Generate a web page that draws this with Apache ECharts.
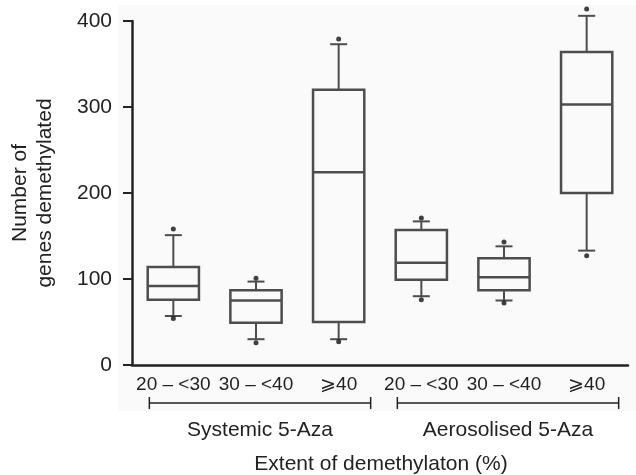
<!DOCTYPE html>
<html>
<head>
<meta charset="utf-8">
<script src="https://cdn.jsdelivr.net/npm/echarts@6/dist/echarts.min.js"></script>
<style>
  html, body { margin: 0; padding: 0; background: #fff; }
  #main { width: 636px; height: 475px; }
</style>
</head>
<body>
<div id="main"></div>
<script>
(function(){
	// categories on the x axis
	var categories = ['20 – <30', '30 – <40', '⩾40', '20 – <30', '30 – <40', '⩾40'];
	// [whisker low, Q1, median, Q3, whisker high]
	var boxStats = [
		[57, 76, 92, 114, 151],
		[30, 49, 75, 87, 97],
		[30, 50, 224, 320, 373],
		[80, 99, 119, 157, 167],
		[75, 87, 102, 124, 138],
		[133, 200, 303, 364, 406]
	];
	// outlier points [category index, value]
	var outliers = [
		[0, 158], [0, 54],
		[1, 101], [1, 26],
		[2, 379], [2, 27],
		[3, 171], [3, 76],
		[4, 143], [4, 72],
		[5, 414], [5, 127]
	];
	var groups = [
		{name: 'Systemic 5-Aza', from: 0, to: 2},
		{name: 'Aerosolised 5-Aza', from: 3, to: 5}
	];
	var yTicks = [0, 100, 200, 300, 400];

	var font = 'Liberation Sans, Arial, sans-serif';
	var lineColor = '#4d4d4d';

	var boxData = boxStats.map(function(s, i){
		return [i].concat(s);
	});

	function renderBox(params, api) {
		var x = api.value(0);
		var lo = api.coord([x, api.value(1)]);
		var q1 = api.coord([x, api.value(2)]);
		var med = api.coord([x, api.value(3)]);
		var q3 = api.coord([x, api.value(4)]);
		var hi = api.coord([x, api.value(5)]);
		var cx = lo[0];
		var bw = api.size([1, 0])[0] * 0.62;
		var cap = 17;
		var st = {stroke: lineColor, lineWidth: 2, fill: null};
		return {
			type: 'group',
			children: [
				{type: 'line', shape: {x1: cx, y1: hi[1], x2: cx, y2: q3[1]}, style: st},
				{type: 'line', shape: {x1: cx, y1: q1[1], x2: cx, y2: lo[1]}, style: st},
				{type: 'line', shape: {x1: cx - cap / 2, y1: hi[1], x2: cx + cap / 2, y2: hi[1]}, style: st},
				{type: 'line', shape: {x1: cx - cap / 2, y1: lo[1], x2: cx + cap / 2, y2: lo[1]}, style: st},
				{type: 'rect', shape: {x: cx - bw / 2, y: q3[1], width: bw, height: q1[1] - q3[1]}, style: {stroke: lineColor, lineWidth: 2.5, fill: 'transparent'}},
				{type: 'line', shape: {x1: cx - bw / 2, y1: med[1], x2: cx + bw / 2, y2: med[1]}, style: {stroke: lineColor, lineWidth: 2.5}}
			]
		};
	}

	var option = {
		animation: false,
		grid: {left: 130, right: 8, top: 21, bottom: 110},
		xAxis: {
			type: 'category',
			data: categories,
			axisLine: {lineStyle: {color: '#222', width: 2.5}},
			axisTick: {show: false},
			axisLabel: {color: '#222', fontSize: 19, fontFamily: font, margin: 10, interval: 0}
		},
		yAxis: {
			type: 'value',
			min: 0,
			max: 400,
			interval: 100,
			name: 'Number of\ngenes demethylated',
			nameLocation: 'middle',
			nameRotate: 90,
			nameGap: 74,
			nameTextStyle: {color: '#222', fontSize: 21, fontFamily: font, lineHeight: 25},
			axisLine: {show: true, lineStyle: {color: '#222', width: 2.5}},
			axisTick: {show: true, length: 9, lineStyle: {color: '#222', width: 2}},
			axisLabel: {
				color: '#222', fontSize: 21, fontFamily: font, margin: 20,
				formatter: function(v){ return yTicks.indexOf(v) >= 0 ? String(v) : ''; }
			},
			splitLine: {show: false}
		},
		series: [
			{
				type: 'custom',
				renderItem: renderBox,
				data: boxData,
				encode: {x: 0, y: [1, 2, 3, 4, 5]},
				clip: false,
				z: 2
			},
			{
				type: 'scatter',
				data: outliers,
				symbolSize: 5,
				clip: false,
				itemStyle: {color: '#111'},
				z: 3
			}
		]
	};

	var chart = echarts.init(document.getElementById('main'));
	chart.setOption(option);

	// faint panel behind the plot, brackets and group names under the labels
	var graphics = [{
		type: 'rect', z: -10, silent: true,
		shape: {x: 118, y: 5, width: 518, height: 406},
		style: {fill: '#fafafa'}
	}];
	var by = 403;
	groups.forEach(function(g){
		var x1 = chart.convertToPixel({xAxisIndex: 0}, g.from) - 24;
		var x2 = chart.convertToPixel({xAxisIndex: 0}, g.to) + 32;
		var st = {stroke: '#222', lineWidth: 1.5};
		graphics.push({type: 'line', shape: {x1: x1, y1: by, x2: x2, y2: by}, style: st});
		graphics.push({type: 'line', shape: {x1: x1, y1: by - 6, x2: x1, y2: by + 6}, style: st});
		graphics.push({type: 'line', shape: {x1: x2, y1: by - 6, x2: x2, y2: by + 6}, style: st});
		graphics.push({
			type: 'text', x: (x1 + x2) / 2, y: 430,
			style: {text: g.name, fill: '#222', font: '21px ' + font, align: 'center', verticalAlign: 'middle'}
		});
	});
	graphics.push({
		type: 'text', x: 381, y: 464,
		style: {text: 'Extent of demethylaton (%)', fill: '#222', font: '21px ' + font, align: 'center', verticalAlign: 'middle'}
	});
	chart.setOption({graphic: graphics});
})();
</script>
</body>
</html>
